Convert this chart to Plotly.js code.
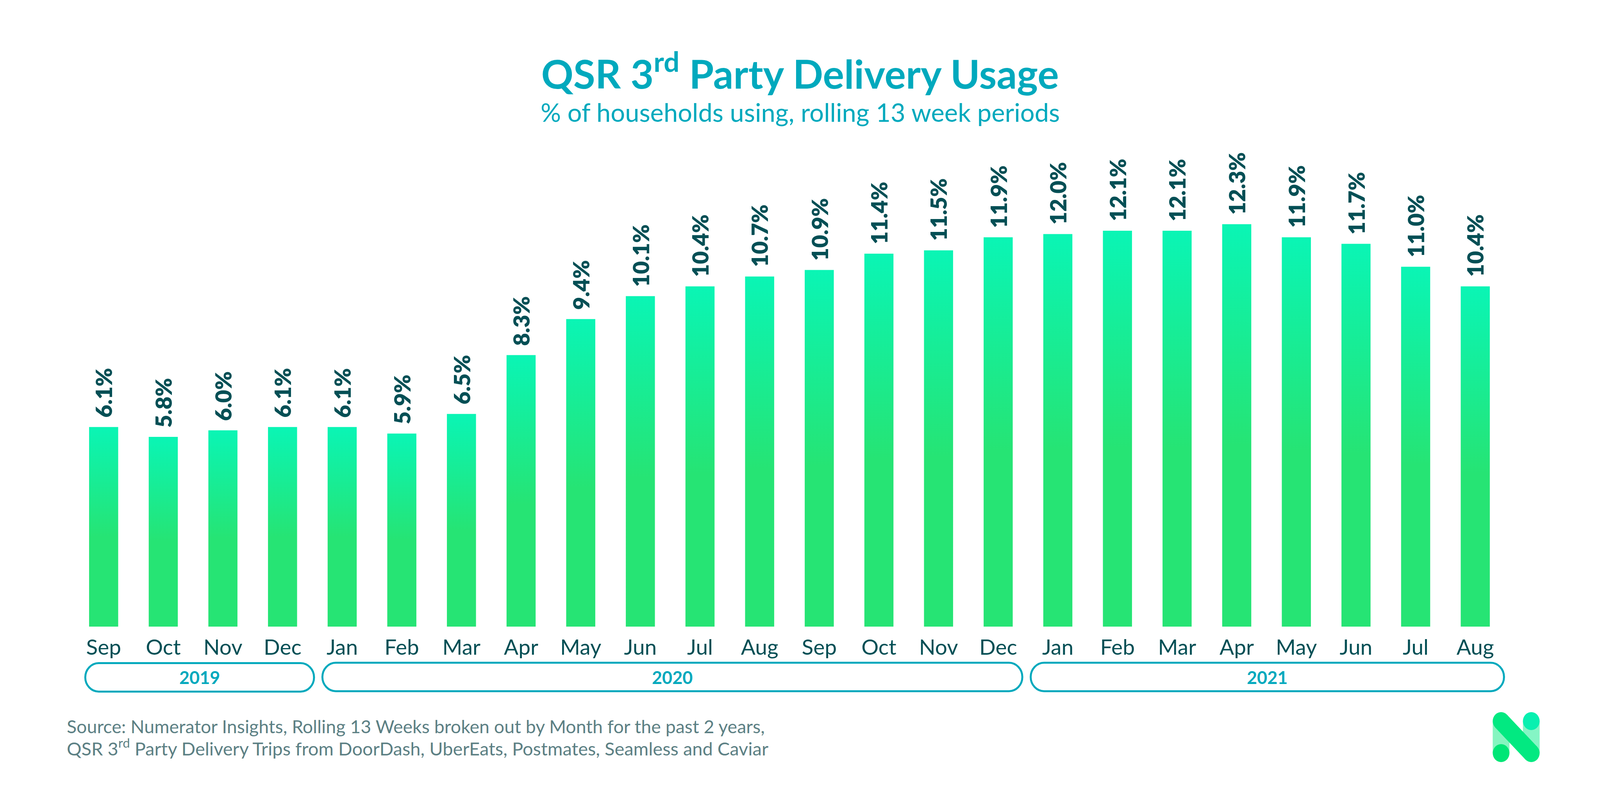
<!DOCTYPE html>
<html><head><meta charset="utf-8">
<script src="https://cdn.plot.ly/plotly-3.0.1.min.js"></script>
<style>html,body{margin:0;padding:0;background:#fff;overflow:hidden}#chart{width:100vw;height:100vh}</style>
</head><body><div id="chart"></div>
<script>
const months = ['Sep','Oct','Nov','Dec','Jan','Feb','Mar','Apr','May','Jun','Jul','Aug','Sep','Oct','Nov','Dec','Jan','Feb','Mar','Apr','May','Jun','Jul','Aug'];
const usage = [6.1,5.8,6.0,6.1,6.1,5.9,6.5,8.3,9.4,10.1,10.4,10.7,10.9,11.4,11.5,11.9,12.0,12.1,12.1,12.3,11.9,11.7,11.0,10.4];
const years = ['2019','2020','2021'];
const yearStart = [-0.308,3.668,15.545];
const yearEnd = [3.528,15.405,23.482];

const FIG_W=window.innerWidth, FIG_H=window.innerHeight;   // the window the page really gets
const W=4400,H=2044,top0=100,base=1605;                    // reference frame
const pxPerPct=83.8, x0Px=285, stepPx=164;
const py=v=>(base-v)/(base-top0);
const px=v=>v/W;
const teal='#00A9BD', dark='#034F55', grey='#5C8084', font='Lato, sans-serif';
const idx=months.map((_,i)=>i);

const shapes=[];
years.forEach((y,i)=>{
  const off=i?-1:0, l=yearStart[i], r=yearEnd[i], t=py(1698.5+off), b=py(1771.5+off);
  const rx=37/stepPx, mid=(t+b)/2, k=0.45;
  shapes.push({type:'path',xref:'x',yref:'paper',line:{color:teal,width:5},fillcolor:'rgba(0,0,0,0)',
    path:`M${l+rx},${t} L${r-rx},${t} C${r-rx*k},${t} ${r},${t-(t-mid)*k} ${r},${mid} C${r},${b+(mid-b)*k} ${r-rx*k},${b} ${r-rx},${b} L${l+rx},${b} C${l+rx*k},${b} ${l},${b+(mid-b)*k} ${l},${mid} C${l},${t-(t-mid)*k} ${l+rx*k},${t} ${l+rx},${t} Z`});
});
const rect=(x0,y0,x1,y1,c)=>({type:'rect',xref:'paper',yref:'paper',x0:px(x0),x1:px(x1),y0:py(y0),y1:py(y1),fillcolor:c,line:{width:0}});
const circ=(cx,cy,r,c)=>({type:'circle',xref:'paper',yref:'paper',x0:px(cx-r),x1:px(cx+r),y0:py(cy-r),y1:py(cy+r),fillcolor:c,line:{width:0}});
const d=16.3;
shapes.push(rect(4105,1847,4151,1929,'#85F5C0'),rect(4188,1847,4234,1929,'#85F5C5'),
  circ(4128,1929,23,'#00E676'),circ(4211,1847,23,'#08F0B0'),
  circ(4128,1847,23,'#02E981'),circ(4211,1929,23,'#02E981'),
  {type:'path',xref:'paper',yref:'paper',fillcolor:'#02E981',line:{width:0},
   path:`M${px(4128+d)},${py(1847-d)} L${px(4211+d)},${py(1929-d)} L${px(4211-d)},${py(1929+d)} L${px(4128-d)},${py(1847+d)} Z`});

const annotations=[];
usage.forEach((v,i)=>annotations.push({x:i,y:v,xref:'x',yref:'y',text:v.toFixed(1)+'%',textangle:-90,showarrow:false,
  yanchor:'bottom',xanchor:'center',yshift:22,font:{family:font,size:57,color:dark,weight:800}}));
years.forEach((y,i)=>annotations.push({x:(yearStart[i]+yearEnd[i])/2,y:py(1735),xref:'x',yref:'paper',text:y,showarrow:false,
  xanchor:'center',yanchor:'middle',font:{family:font,size:45,color:teal,weight:700}}));
annotations.push({x:0.5,y:py(287),xref:'paper',yref:'paper',text:'% of households using, rolling 13 week periods',showarrow:false,
  xanchor:'center',yanchor:'middle',font:{family:font,size:65,color:teal}});
annotations.push({x:px(182),y:py(1860),xref:'paper',yref:'paper',text:'Source: Numerator Insights, Rolling 13 Weeks broken out by Month for the past 2 years,',showarrow:false,
  xanchor:'left',yanchor:'middle',align:'left',font:{family:font,size:46.5,color:grey}});
annotations.push({x:px(182),y:py(1914),xref:'paper',yref:'paper',text:'QSR 3<sup>rd</sup> Party Delivery Trips from DoorDash, UberEats, Postmates, Seamless and Caviar',showarrow:false,
  xanchor:'left',yanchor:'middle',align:'left',font:{family:font,size:47,color:grey}});

const data=[{type:'bar',x:idx,y:usage,marker:{color:'#26E474',line:{width:0}},width:80/stepPx,hoverinfo:'skip'}];
const layout={width:FIG_W,height:FIG_H,paper_bgcolor:'#fff',plot_bgcolor:'#fff',showlegend:false,
  margin:{l:0,r:0,t:top0,b:H-base,pad:0},
  title:{text:'<b>QSR 3<sup>rd</sup> Party Delivery Usage</b>',x:0.5,xanchor:'center',xref:'paper',y:1-191/H,yanchor:'middle',yref:'container',font:{family:font,size:102,color:teal,weight:700}},
  xaxis:{range:[-x0Px/stepPx,(W-x0Px)/stepPx],tickmode:'array',tickvals:idx,ticktext:months,ticks:'',showgrid:false,zeroline:false,showline:false,ticklabelstandoff:16,tickangle:0,
    tickfont:{family:font,size:55,color:dark}},
  yaxis:{range:[0,(base-top0)/pxPerPct],visible:false,showgrid:false,zeroline:false},
  shapes,annotations};
Plotly.newPlot('chart',data,layout,{displayModeBar:false,staticPlot:true}).then(gd=>{
  const svg=gd.querySelector('svg.main-svg');
  const defs=svg.querySelector('defs');
  const ns='http://www.w3.org/2000/svg';
  const g=document.createElementNS(ns,'linearGradient');
  g.id='barGrad';g.setAttribute('x1','0');g.setAttribute('y1','0');g.setAttribute('x2','0');g.setAttribute('y2','1');
  [['0','#0AF5B5'],['0.55','#26E474'],['1','#26E474']].forEach(([o,c])=>{const s=document.createElementNS(ns,'stop');s.setAttribute('offset',o);s.setAttribute('stop-color',c);g.appendChild(s);});
  defs.appendChild(g);
  gd.querySelectorAll('.bars .point path').forEach(p=>{p.style.fill='url(#barGrad)';});
});
</script></body></html>
